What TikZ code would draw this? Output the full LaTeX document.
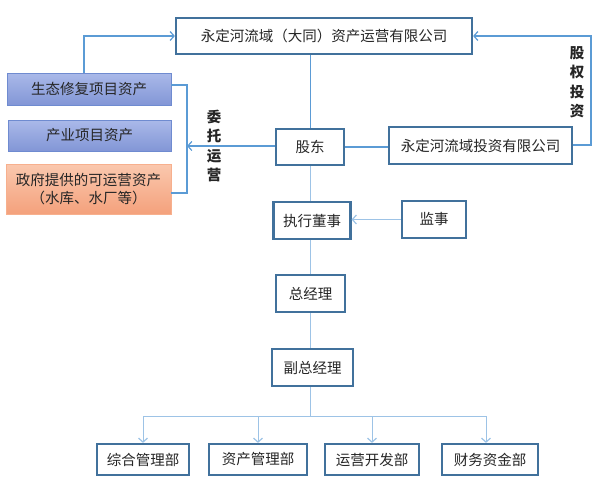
\documentclass[tikz,border=0pt]{standalone}
\usepackage{fontspec}
\setmainfont{Noto Sans CJK SC}
\usetikzlibrary{arrows.meta}
\definecolor{boxline}{HTML}{41719C}
\definecolor{conn}{HTML}{5B9BD5}
\definecolor{connlt}{HTML}{9DC3E6}
\definecolor{bluetop}{HTML}{AAB9E9}
\definecolor{bluebot}{HTML}{8296D6}
\definecolor{blueline}{HTML}{6F8BD0}
\definecolor{ortop}{HTML}{FAC8AE}
\definecolor{orbot}{HTML}{F4A17C}
\definecolor{orline}{HTML}{F7B08E}
\tikzset{
  orgbox/.style={draw=boxline, line width=2.2pt, fill=white, inner sep=0pt, font=\fontsize{14.5}{16}\selectfont, text=black!85},
  bluebox/.style={draw=blueline, line width=0.8pt, top color=bluetop, bottom color=bluebot, inner sep=0pt, font=\fontsize{14.5}{16}\selectfont, text=black!85},
  orbox/.style={draw=orline, line width=0.8pt, top color=ortop, bottom color=orbot, inner sep=0pt, font=\fontsize{14.5}{18}\selectfont, text=black!85, align=center},
  thickconn/.style={draw=conn, line width=2.2pt},
  thinconn/.style={draw=connlt, line width=1pt},
  barb/.style={-{Straight Barb[length=4pt,width=9pt,line width=1.2pt]}},
  vtext/.style={font=\fontsize{14.5}{19.5}\selectfont\bfseries, align=center, text=black!85}
}
\begin{document}
\begin{tikzpicture}[x=1pt,y=-1pt]
\useasboundingbox (0,0) rectangle (599,490);
% boxes
\node[orgbox, minimum width=296pt, minimum height=36pt] (top) at (324,36) {永定河流域（大同）资产运营有限公司};
\node[bluebox, minimum width=164pt, minimum height=32pt] (eco) at (89,89) {生态修复项目资产};
\node[bluebox, minimum width=163pt, minimum height=31pt] (ind) at (89.5,135.5) {产业项目资产};
\node[orbox, minimum width=165pt, minimum height=50pt] (gov) at (88.5,189) {政府提供的可运营资产\\（水库、水厂等）};
\node[orgbox, minimum width=68pt, minimum height=36pt] (gd) at (310,147) {股东};
\node[orgbox, minimum width=183pt, minimum height=37pt] (inv) at (480.5,145.5) {永定河流域投资有限公司};
\node[orgbox, minimum width=77pt, minimum height=37pt] (exec) at (312,220.5) {执行董事};
\node[orgbox, minimum width=64pt, minimum height=37pt] (sup) at (434,219.5) {监事};
\node[orgbox, minimum width=69pt, minimum height=37pt] (gm) at (310.5,293.5) {总经理};
\node[orgbox, minimum width=81pt, minimum height=37pt] (dgm) at (312.5,367.5) {副总经理};
\node[orgbox, minimum width=92pt, minimum height=31pt] (d1) at (143,459.5) {综合管理部};
\node[orgbox, minimum width=98pt, minimum height=31pt] (d2) at (258,459.5) {资产管理部};
\node[orgbox, minimum width=94pt, minimum height=31pt] (d3) at (372,459.5) {运营开发部};
\node[orgbox, minimum width=96pt, minimum height=31pt] (d4) at (490,459.5) {财务资金部};
% labels
\node[vtext] (wt) at (214,146) {委\\托\\运\\营};
\node[vtext] (gq) at (577,82) {股\\权\\投\\资};
% coordinates
\coordinate (ecoTop) at (84,36);
\coordinate (brA) at (187,85);
\coordinate (brB) at (187,193);
\coordinate (brM) at (187,146);
\coordinate (invR) at (591,145);
\coordinate (invRT) at (591,36);
\coordinate (split) at (310,416);
\coordinate (splitL) at (143,416);
\coordinate (splitR) at (486,416);
% thick connectors
\draw[thickconn, barb] (eco.north -| ecoTop) -- (ecoTop) -- (top.west);
\draw[thickconn] (eco.east |- brA) -- (brA) -- (brB) -- (gov.east |- brB);
\draw[thickconn, barb] (gd.west |- brM) -- (brM);
\draw[thickconn, barb] (inv.east |- invR) -- (invR) -- (invRT) -- (top.east);
% thin/plain connectors
\draw[draw=conn, line width=1pt] (top.south -| gd.north) -- (gd.north);
\draw[draw=conn, line width=1.2pt] (gd.east) -- (inv.west |- gd.east);
\draw[thinconn] (gd.south) -- (gd.south |- exec.north);
\draw[thinconn, barb] (sup.west) -- (exec.east |- sup.west);
\draw[thinconn] (exec.south -| gd.south) -- (gm.north -| gd.south);
\draw[thinconn] (gm.south -| gd.south) -- (dgm.north -| gd.south);
\draw[thinconn] (dgm.south -| split) -- (split);
\draw[thinconn] (splitL) -- (splitR);
\draw[thinconn, barb] (splitL) -- (d1.north -| splitL);
\draw[thinconn, barb] (d2.north |- split) -- (d2.north);
\draw[thinconn, barb] (d3.north |- split) -- (d3.north);
\draw[thinconn, barb] (splitR) -- (d4.north -| splitR);
\end{tikzpicture}
\end{document}
